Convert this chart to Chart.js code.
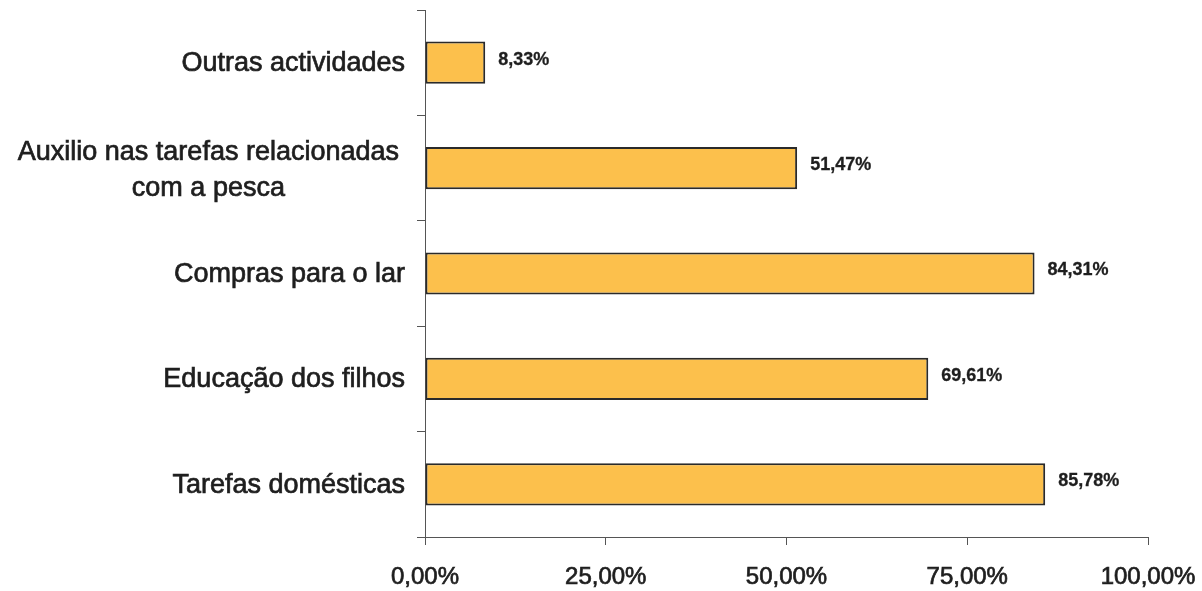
<!DOCTYPE html>
<html>
<head>
<meta charset="utf-8">
<script src="https://cdn.jsdelivr.net/npm/chart.js@4/dist/chart.umd.min.js"></script>
<style>
  html, body { margin: 0; padding: 0; background: #fff; }
  #wrap { width: 1202px; height: 591px; }
</style>
</head>
<body>
<div id="wrap"><canvas id="grafico" width="1202" height="591"></canvas></div>
<script>
// Actividades (de cima para baixo)
const categorias = [
  'Outras actividades',
  ['Auxilio nas tarefas relacionadas', 'com a pesca'],
  'Compras para o lar',
  'Educação dos filhos',
  'Tarefas domésticas'
];
const percentagens = [8.33, 51.47, 84.31, 69.61, 85.78];
const ticksX = [0, 25, 50, 75, 100];

const corTexto = '#1e1e1e';

function formatarPct(v) {
  return v.toFixed(2).replace('.', ',') + '%';
}

// texto com traço fino para ficar um pouco mais cheio
function escrever(ctx, txt, x, y) {
  ctx.strokeText(txt, x, y);
  ctx.fillText(txt, x, y);
}

// rótulos das categorias e valores no fim das barras
const rotulos = {
  id: 'rotulos',
  afterDatasetsDraw(chart) {
    const ctx = chart.ctx;
    const y = chart.scales.y;
    ctx.save();
    ctx.fillStyle = corTexto;
    ctx.strokeStyle = corTexto;
    ctx.lineWidth = 0.7;
    ctx.textBaseline = 'middle';

    ctx.font = '27px "Liberation Sans", Arial, sans-serif';
    categorias.forEach((cat, i) => {
      const cy = y.getPixelForValue(i);
      if (Array.isArray(cat)) {
        ctx.textAlign = 'center';
        const larg = ctx.measureText(cat[0]).width;
        const cx = 399 - larg / 2;
        const alt = 36;
        cat.forEach((linha, j) => {
          escrever(ctx, linha, cx, cy + (j - (cat.length - 1) / 2) * alt + 2);
        });
      } else {
        ctx.textAlign = 'right';
        escrever(ctx, cat, 405, cy + 1);
      }
    });

    ctx.font = 'bold 18px "Liberation Sans", Arial, sans-serif';
    ctx.lineWidth = 0.3;
    ctx.textAlign = 'left';
    const meta = chart.getDatasetMeta(0);
    meta.data.forEach((bar, i) => {
      escrever(ctx, formatarPct(percentagens[i]), bar.x + 13, bar.y - 3);
    });
    ctx.restore();
  }
};

new Chart(document.getElementById('grafico'), {
  type: 'bar',
  data: {
    labels: categorias,
    datasets: [{
      data: percentagens,
      backgroundColor: '#FCC04C',
      borderColor: '#2a2a2a',
      borderWidth: 2,
      borderSkipped: false,
      barPercentage: 0.4,
      categoryPercentage: 1
    }]
  },
  options: {
    indexAxis: 'y',
    responsive: false,
    animation: false,
    layout: { padding: { top: 10, right: 54, left: 0, bottom: 0 } },
    plugins: {
      legend: { display: false },
      tooltip: { enabled: false }
    },
    scales: {
      x: {
        min: 0,
        max: 100,
        afterBuildTicks(scale) {
          scale.ticks = ticksX.map(v => ({ value: v }));
        },
        afterFit(scale) {
          scale.height = 54;
          scale.paddingLeft = 0;
          scale.paddingRight = 0;
        },
        grid: { drawOnChartArea: false, drawTicks: true, tickLength: 8, color: '#555' },
        border: { display: true, color: '#555', width: 1 },
        ticks: {
          padding: 18,
          color: corTexto,
          textStrokeColor: corTexto,
          textStrokeWidth: 0.7,
          font: { family: '"Liberation Sans", Arial, sans-serif', size: 24 },
          callback: v => formatarPct(v)
        }
      },
      y: {
        offset: true,
        afterFit(scale) {
          scale.width = 425;
          scale.paddingTop = 0;
          scale.paddingBottom = 0;
        },
        grid: { drawOnChartArea: false, drawTicks: true, tickLength: 8, color: '#555', offset: true },
        border: { display: true, color: '#555', width: 1 },
        ticks: { display: false }
      }
    }
  },
  plugins: [rotulos]
});
</script>
</body>
</html>
